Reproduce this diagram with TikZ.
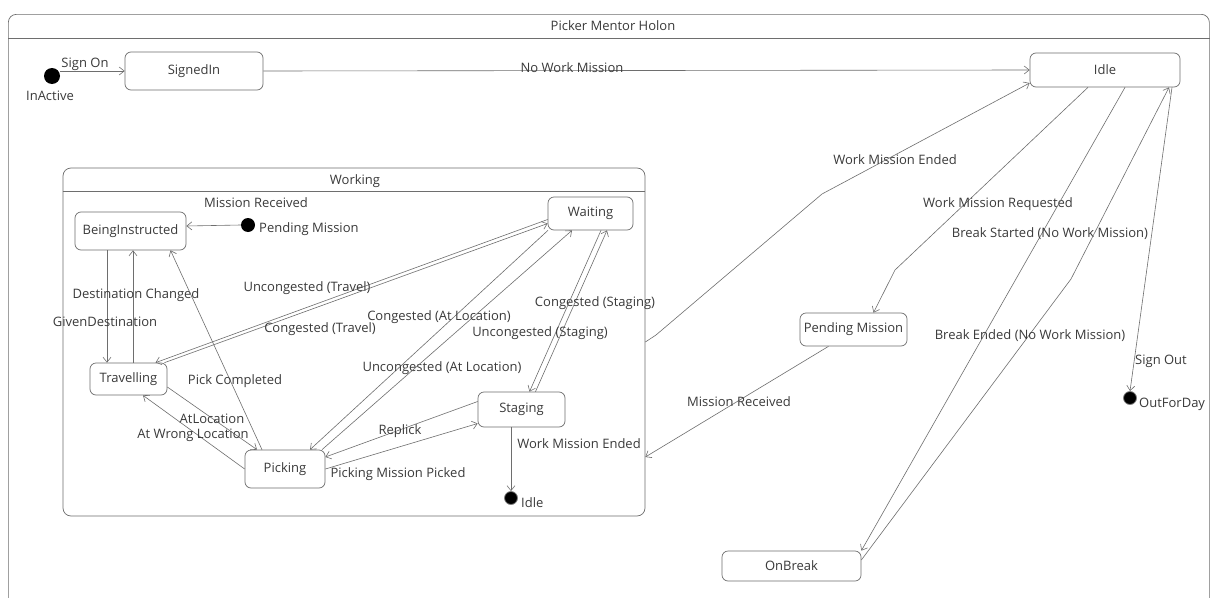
\documentclass[tikz,border=0pt]{standalone}
\usepackage{fontspec}
\setmainfont{Open Sans}
\usetikzlibrary{arrows.meta}
\definecolor{edge}{HTML}{6E6E6E}
\definecolor{txt}{HTML}{3A3A3A}
\begin{document}
\begin{tikzpicture}[x=1pt,y=-1pt,
  font=\fontsize{13}{15}\selectfont,
  st/.style={draw=edge, rounded corners=6pt, fill=white, inner sep=0pt, line width=0.7pt, text=txt},
  frame/.style={draw=edge, rounded corners=8pt, inner sep=0pt, line width=0.7pt},
  tr/.style={draw=edge, line width=0.6pt, -{Straight Barb[length=5pt,width=8pt]}},
  lbl/.style={inner sep=1pt, text=txt},
  initst/.style={circle, fill=black, inner sep=0pt, minimum size=16pt},
  finalst/.style={circle, fill=black, draw=gray, line width=0.8pt, inner sep=0pt, minimum size=13pt}
]
\useasboundingbox (0,0) rectangle (1210,597);
\clip (0,0) rectangle (1210,597);
\fill[white] (0,0) rectangle (1210,597);

% outer frame
\node[frame, minimum width=1201pt, minimum height=640pt, anchor=north west] (Holon) at (8,14) {};
\draw[draw=edge, line width=0.7pt] ([yshift=-24pt]Holon.north west) -- ([yshift=-24pt]Holon.north east);
\node[lbl] (HolonT) at (613,26) {Picker Mentor Holon};

% Working composite
\node[frame, minimum width=582pt, minimum height=348pt] (Working) at (354,342) {};
\draw[draw=edge, line width=0.7pt] ([yshift=-24pt]Working.north west) -- ([yshift=-24pt]Working.north east);
\node[lbl] (WorkingT) at (355,181) {Working};

% states
\node[st, minimum width=138pt, minimum height=38pt] (SignedIn) at (194,71) {SignedIn};
\node[st, minimum width=150pt, minimum height=34pt] (Idle) at (1105,70) {Idle};
\node[st, minimum width=111pt, minimum height=38pt] (BI) at (130.5,231) {BeingInstructed};
\node[st, minimum width=85pt, minimum height=33pt] (Waiting) at (590.5,213.5) {Waiting};
\node[st, minimum width=77pt, minimum height=32pt] (Trav) at (128.5,379) {Travelling};
\node[st, minimum width=80pt, minimum height=38pt] (Picking) at (285,469) {Picking};
\node[st, minimum width=87pt, minimum height=35pt] (Staging) at (521.5,409.5) {Staging};
\node[st, minimum width=107pt, minimum height=33pt] (PM) at (853.5,329.5) {Pending Mission};
\node[st, minimum width=139pt, minimum height=30pt] (OnBreak) at (791.5,566) {OnBreak};

% pseudo states
\node[initst] (InActive) at (52,76) {};
\node[lbl, anchor=north] (InActiveT) at (50,90) {InActive};
\node[initst, minimum size=14pt] (PMinit) at (248,225) {};
\node[lbl, anchor=west] (PMinitT) at (258,229) {Pending Mission};
\node[finalst] (IdleFin) at (511,498) {};
\node[lbl, anchor=west] (IdleFinT) at (520,503) {Idle};
\node[finalst] (OutFin) at (1130,398) {};
\node[lbl, anchor=west] (OutFinT) at (1138,404) {OutForDay};

% outer transitions
\draw[tr] ([yshift=5pt]InActive.east) -- (SignedIn.west);
\node[lbl] at (85,64) {Sign On};
\draw[tr] (SignedIn.east) -- (Idle.west);
\node[lbl] at (572,68) {No Work Mission};
\draw[tr] (Working.east) -- (656,335) -- (822,194) -- ([yshift=-13pt]Idle.west);
\node[lbl] at (895,160) {Work Mission Ended};
\draw[tr] ([xshift=-17pt]Idle.south) -- (895,270) -- ([xshift=20pt]PM.north);
\node[lbl] at (998,204) {Work Mission Requested};
\draw[tr] ([xshift=-25pt]PM.south) -- ([yshift=-115pt]Working.east);
\node[lbl] at (739,402) {Mission Received};
\draw[tr] ([xshift=20pt]Idle.south) -- (OnBreak.north east);
\node[lbl] at (1050,234) {Break Started (No Work Mission)};
\draw[tr] ([yshift=6pt]OnBreak.east) -- (1071,279) -- ([xshift=64pt]Idle.south);
\node[lbl] at (1030,336) {Break Ended (No Work Mission)};
\draw[tr] ([xshift=67pt]Idle.south) -- (OutFin.north);
\node[lbl] at (1161,361) {Sign Out};

% inner transitions
\draw[tr] (PMinit.west) -- ([yshift=5pt]BI.east);
\node[lbl] at (256,203) {Mission Received};
\draw[tr] ([xshift=-23.5pt]BI.south) -- ([xshift=-21.5pt]Trav.north);
\node[lbl] at (105,322) {GivenDestination};
\draw[tr] ([xshift=4.5pt]Trav.north) -- ([xshift=2.5pt]BI.south);
\node[lbl] at (136,295) {Destination Changed};
\draw[tr] ([xshift=-23pt]Picking.north) -- ([xshift=40pt]BI.south);
\node[lbl] at (235,381) {Pick Completed};
\draw[tr] ([yshift=-8pt]Trav.east) -- ([xshift=-28pt]Picking.north);
\node[lbl] at (212,419) {AtLocation};
\draw[tr] (Picking.west) -- ([xshift=14.5pt]Trav.south);
\node[lbl] at (193,435) {At Wrong Location};
\draw[tr] ([yshift=-6pt]Waiting.west) -- ([xshift=27pt]Trav.north);
\node[lbl] at (307,288) {Uncongested (Travel)};
\draw[tr] ([xshift=36pt]Trav.north) -- ([yshift=-10pt]Waiting.west);
\node[lbl] at (320,329) {Congested (Travel)};
\draw[tr] ([xshift=-42.5pt]Waiting.south) -- ([xshift=25pt]Picking.north);
\node[lbl] at (442,368) {Uncongested (At Location)};
\draw[tr] ([xshift=37pt]Picking.north) -- ([xshift=-18.5pt]Waiting.south);
\node[lbl] at (439,317) {Congested (At Location)};
\draw[tr] ([xshift=14pt]Staging.north) -- ([xshift=16.5pt]Waiting.south);
\node[lbl] at (595,303) {Congested (Staging)};
\draw[tr] ([xshift=10.5pt]Waiting.south) -- ([xshift=8pt]Staging.north);
\node[lbl] at (540,333) {Uncongested (Staging)};
\draw[tr] ([yshift=8pt]Staging.west) -- ([yshift=12pt]Picking.east);
\node[lbl] at (400,431) {Replick};
\draw[tr] (Picking.east) -- ([yshift=-14pt]Staging.west);
\node[lbl] at (398,474) {Picking Mission Picked};
\draw[tr] ([xshift=-10.5pt]Staging.south) -- (IdleFin.north);
\node[lbl] at (579,444) {Work Mission Ended};
\end{tikzpicture}
\end{document}
